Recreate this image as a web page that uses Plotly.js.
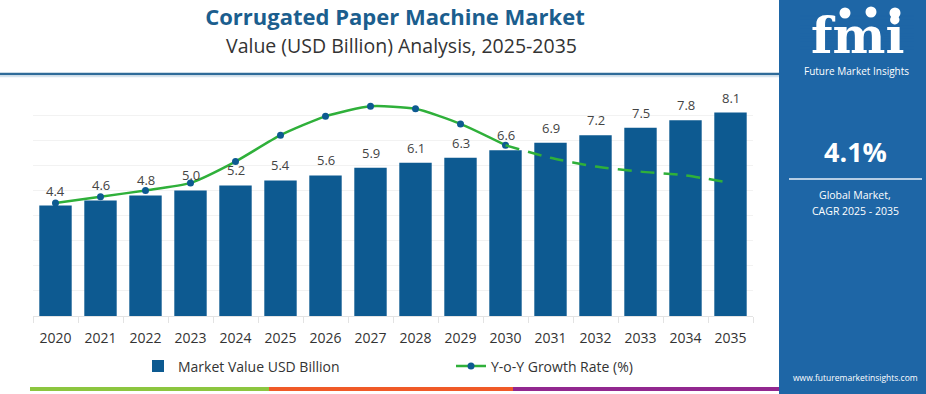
<!DOCTYPE html>
<html><head><meta charset="utf-8">
<script src="https://cdn.plot.ly/plotly-3.0.1.min.js"></script>
<style>html,body{margin:0;padding:0;background:#fff}#chart{width:926px;height:394px}</style>
</head><body><div id="chart"></div>
<script>
const years = ['2020','2021','2022','2023','2024','2025','2026','2027','2028','2029','2030','2031','2032','2033','2034','2035'];
const marketValue = [4.4,4.6,4.8,5.0,5.2,5.4,5.6,5.9,6.1,6.3,6.6,6.9,7.2,7.5,7.8,8.1];
const growthRate = [4.5,4.75,5.0,5.3,6.15,7.2,7.95,8.35,8.25,7.65,6.8,6.3,5.95,5.75,5.6,5.3];
const histEnd = 10; // index of 2030, last actual point
const cagrText = '4.1%';

const W=926,H=394,L=33,R=753,T=90,B=316;
const px = x => (x-L)/(R-L);
const py = y => (B-y)/(B-T);
const FONT = 'Open Sans, Roboto, sans-serif';
const BLUE = '#0d5a91', GREEN = '#2fb03a', PANEL = '#1e66a6';

const traces = [
  {type:'bar', x:years, y:marketValue, name:'Market Value USD Billion',
   marker:{color:BLUE}, hoverinfo:'skip'},
  {type:'scatter', mode:'lines+markers', x:years.slice(0,histEnd+1), y:growthRate.slice(0,histEnd+1),
   yaxis:'y2', name:'Y-o-Y Growth Rate (%)',
   line:{color:GREEN, width:2.5, shape:'spline', smoothing:0.6},
   marker:{color:BLUE, size:7}},
  {type:'scatter', mode:'lines', x:years.slice(histEnd), y:growthRate.slice(histEnd),
   yaxis:'y2', showlegend:false,
   line:{color:GREEN, width:2.5, shape:'spline', smoothing:0.6, dash:'14px,9px'}}
];

// value labels above bars (x given as category index)
const annotations = years.map((yr,i)=>({
  x:i, y:marketValue[i], xref:'x', yref:'y', text:marketValue[i].toFixed(1),
  showarrow:false, yanchor:'bottom', yshift:4, font:{family:FONT, size:13, color:'#444'}
}));

annotations.push(
  {xref:'paper', yref:'paper', x:px(402), y:py(46), text:'Value (USD Billion) Analysis, 2025-2035',
   showarrow:false, xanchor:'center', yanchor:'middle', font:{family:FONT, size:19.5, color:'#333'}},
  {xref:'paper', yref:'paper', x:px(857), y:py(4), text:'<b>fmi</b>',
   showarrow:false, xanchor:'center', yanchor:'top', font:{family:'DejaVu Serif', size:50, color:'#fff'}},
  {xref:'paper', yref:'paper', x:px(856), y:py(71), text:'Future Market Insights',
   showarrow:false, xanchor:'center', yanchor:'middle', font:{family:FONT, size:10, color:'#fff'}},
  {xref:'paper', yref:'paper', x:px(855), y:py(151), text:'<b>'+cagrText+'</b>',
   showarrow:false, xanchor:'center', yanchor:'middle', font:{family:FONT, size:27, color:'#fff'}},
  {xref:'paper', yref:'paper', x:px(855), y:py(195), text:'Global Market,',
   showarrow:false, xanchor:'center', yanchor:'middle', font:{family:FONT, size:10.5, color:'#fff'}},
  {xref:'paper', yref:'paper', x:px(855), y:py(211), text:'CAGR 2025 - 2035',
   showarrow:false, xanchor:'center', yanchor:'middle', font:{family:FONT, size:10.5, color:'#fff'}},
  {xref:'paper', yref:'paper', x:px(855), y:py(377), text:'www.futuremarketinsights.com',
   showarrow:false, xanchor:'center', yanchor:'middle', font:{family:FONT, size:8.5, color:'#fff'}}
);

const shapes = [
  {type:'rect', xref:'paper', yref:'paper', x0:px(779), x1:px(927), y0:py(-1), y1:py(395),
   fillcolor:PANEL, line:{width:0}, layer:'below'},
  {type:'line', xref:'paper', yref:'paper', x0:px(0), x1:px(779), y0:py(74), y1:py(74),
   line:{color:'#2f6b99', width:2.5}},
  {type:'line', xref:'paper', yref:'paper', x0:px(0), x1:px(779), y0:py(76.5), y1:py(76.5),
   line:{color:'#d6e4ef', width:1.5}},
  {type:'line', xref:'paper', yref:'paper', x0:px(789), x1:px(922), y0:py(179), y1:py(179),
   line:{color:'#e8f0f8', width:1.5}},
  {type:'line', xref:'paper', yref:'paper', x0:px(30), x1:px(269), y0:py(389), y1:py(389),
   line:{color:'#8cc63f', width:4}},
  {type:'line', xref:'paper', yref:'paper', x0:px(269), x1:px(513), y0:py(389), y1:py(389),
   line:{color:'#f05a28', width:4}},
  {type:'line', xref:'paper', yref:'paper', x0:px(513), x1:px(779), y0:py(389), y1:py(389),
   line:{color:'#92278f', width:4}}
];
// logo stripes
for (let y=16; y<=52; y+=4.3) {
  shapes.push({type:'line', xref:'paper', yref:'paper', x0:px(800), x1:px(914), y0:py(y), y1:py(y),
    line:{color:PANEL, width:1.3}});
}
// logo icons
[[845,13],[871,12],[895,13]].forEach(c=>{
  shapes.push({type:'circle', xref:'paper', yref:'paper', x0:px(c[0]-5.5), x1:px(c[0]+5.5), y0:py(c[1]+5.5), y1:py(c[1]-5.5),
    fillcolor:'#fff', line:{width:0}});
});

const layout = {
  width:W, height:H, margin:{l:L, r:W-R, t:T, b:H-B},
  paper_bgcolor:'#fff', plot_bgcolor:'#fff',
  font:{family:FONT, color:'#333'},
  title:{text:'<b>Corrugated Paper Machine Market</b>', xref:'container', yref:'container',
         x:395/W, y:1-17/H, xanchor:'center', yanchor:'middle',
         font:{family:FONT, size:22, color:'#1b5e8e'}},
  bargap:0.28,
  xaxis:{type:'category', range:[-0.5,15.5], showline:true, linecolor:'#e3e3e3', linewidth:1,
         ticks:'outside', tickson:'boundaries', ticklen:6, tickcolor:'#e3e3e3',
         tickfont:{family:FONT, size:14, color:'#333'}, ticklabelstandoff:9, showgrid:false, fixedrange:true},
  yaxis:{range:[0,9], dtick:1, showticklabels:false, showgrid:true, gridcolor:'#f2f2f2', zeroline:false, fixedrange:true},
  yaxis2:{range:[0,9], overlaying:'y', side:'right', visible:false, fixedrange:true},
  showlegend:true,
  legend:{orientation:'h', x:px(138), y:py(366.5), xanchor:'left', yanchor:'middle',
          font:{family:FONT, size:14, color:'#333'}, entrywidth:268, entrywidthmode:'pixels',
          traceorder:'normal', bgcolor:'rgba(0,0,0,0)'},
  annotations, shapes
};

Plotly.newPlot('chart', traces, layout, {displayModeBar:false, staticPlot:true});
</script></body></html>
